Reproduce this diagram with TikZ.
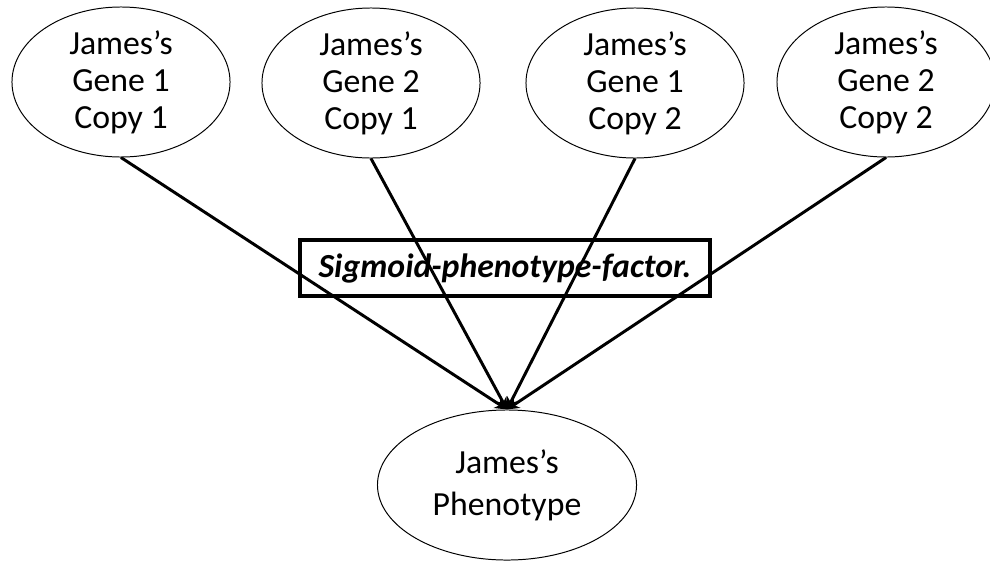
\documentclass[tikz,border=0pt]{standalone}
\usepackage{fontspec}
\setmainfont{Carlito}
\usetikzlibrary{shapes.geometric}
\usetikzlibrary{arrows.meta}
\tikzset{Gene Node/.style = {ellipse, draw, line width = 0.7pt, minimum width = 5.45cm,
    minimum height = 3.75cm, inner sep = 0pt, align = center,
    font = \fontsize{24}{26.3}\selectfont}}
\tikzset{Factor Box/.style = {draw, line width = 2.8pt, minimum width = 10.25cm,
    minimum height = 1.42cm, inner sep = 0pt,
    font = \fontsize{24}{26.3}\selectfont\bfseries\itshape}}
\tikzset{Gene Arrow/.style = {line width = 2.1pt, -{Stealth[length = 3mm, width = 3mm]}}}

\begin{document}
\begin{tikzpicture}[x = 0.025cm, y = -0.025cm]
  \useasboundingbox (0, 0) rectangle (990, 561);

  \node[Gene Node] (G1C1) at (121, 82) {James's\\Gene 1\\Copy 1};
  \node[Gene Node] (G2C1) at (371, 83) {James's\\Gene 2\\Copy 1};
  \node[Gene Node] (G1C2) at (635, 83) {James's\\Gene 1\\Copy 2};
  \node[Gene Node] (G2C2) at (886, 82) {James's\\Gene 2\\Copy 2};

  \node[Gene Node, minimum width = 6.475cm, font = \fontsize{24}{29.8}\selectfont]
  (Pheno) at (507, 485) {James's\\Phenotype};

  \node[Factor Box] (Sigmoid) at (505, 268) {Sigmoid-phenotype-factor.};

  \foreach \g in {G1C1, G2C1, G1C2, G2C2}
  \draw[Gene Arrow] (\g.south) -- (Pheno.north);
\end{tikzpicture}
\end{document}
